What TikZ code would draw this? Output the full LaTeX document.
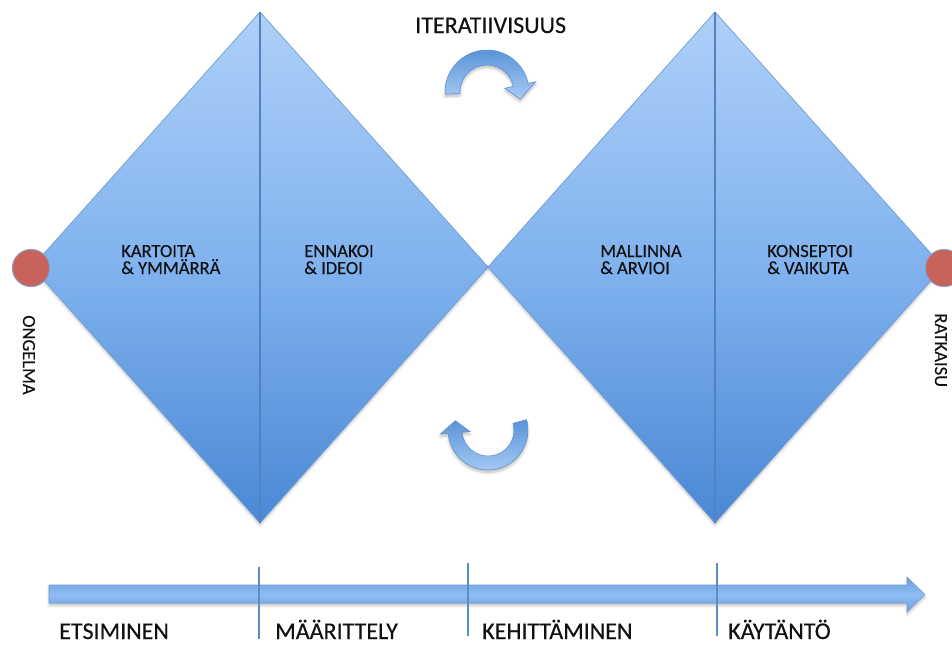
\documentclass[tikz,border=0pt]{standalone}
\usepackage{fontspec}
\setmainfont{Carlito}
\newfontfamily\labelfont{Carlito}[FakeBold=0.35]
\usetikzlibrary{shadows.blur}

\definecolor{diatop}{HTML}{AED0F8}
\definecolor{diamid}{HTML}{80B2EE}
\definecolor{diabot}{HTML}{4A88D4}
\definecolor{diaedge}{HTML}{6E9CD6}
\definecolor{divider}{HTML}{5383BF}
\definecolor{dotred}{HTML}{C8635C}
\definecolor{dotedge}{HTML}{7FA3D2}
\definecolor{arrowdark}{HTML}{5A93D8}
\definecolor{arrowlight}{HTML}{A6CBF5}
\definecolor{arrowedge}{HTML}{5C8ECF}
\definecolor{barlight}{HTML}{8FBCF1}
\definecolor{bardark}{HTML}{6DA0E0}
\definecolor{baredge}{HTML}{6A9AD6}
\definecolor{tickblue}{HTML}{5B8CC6}
\definecolor{ink}{HTML}{111111}

\tikzset{
  diamondfill/.style={top color=diatop, bottom color=diabot, middle color=diamid,
    draw=diaedge, line width=0.5pt, line join=miter,
    blur shadow={shadow xshift=0pt, shadow yshift=-1.5pt, shadow blur steps=6, shadow opacity=25}},
  divline/.style={draw=divider, line width=1.4pt},
  dot/.style={circle, minimum size=28pt, inner sep=0pt, fill=dotred, draw=dotedge, line width=0.6pt},
  loopar/.style={top color=arrowdark, bottom color=arrowlight, draw=arrowedge, line width=0.4pt,
    line join=miter,
    blur shadow={shadow xshift=0pt, shadow yshift=-2pt, shadow blur steps=6, shadow opacity=25}},
  timebar/.style={top color=bardark, bottom color=bardark, middle color=barlight,
    draw=baredge, line width=0.4pt, line join=miter,
    blur shadow={shadow xshift=0pt, shadow yshift=-2pt, shadow blur steps=6, shadow opacity=25}},
  tick/.style={draw=tickblue, line width=1.3pt},
  steptext/.style={font=\labelfont\fontsize{13.9}{16}\selectfont, inner sep=0pt, anchor=base west, text=ink},
  phasetext/.style={font=\labelfont\fontsize{18}{21}\selectfont, inner sep=0pt, anchor=base west, text=ink},
  endtext/.style={font=\labelfont\fontsize{13.9}{16}\selectfont, inner sep=0pt, anchor=base west, text=ink, rotate=-90},
}

\begin{document}
\begin{tikzpicture}[x=0.75pt, y=-0.75pt]
  \path[use as bounding box] (0,0) rectangle (952,644);
  \clip (0,0) rectangle (952,644);

  % corner points of the two diamonds
  \coordinate (aL) at (32,267);
  \coordinate (aT) at (260,12);
  \coordinate (aB) at (260,523);
  \coordinate (mid) at (488,267);
  \coordinate (bT) at (715,12);
  \coordinate (bB) at (715,523);
  \coordinate (bR) at (943,267);

  % diamonds
  \path[diamondfill] (aL) -- (aT) -- (mid) -- (aB) -- cycle;
  \path[diamondfill] (mid) -- (bT) -- (bR) -- (bB) -- cycle;
  \draw[divline] (aT) -- (aB);
  \draw[divline] (bT) -- (bB);

  % start and end points
  \node[dot] (problem) at (31,268) {};
  \node[dot] (solution) at (944,268) {};
  \node[endtext] (problemtxt) at (23,315) {ONGELMA};
  \node[endtext] (solutiontxt) at (935,313) {RATKAISU};

  % step labels inside the diamonds
  \node[steptext] (s1a) at (121,257) {KARTOITA};
  \node[steptext] (s1b) at (121,274) {\& YMMÄRRÄ};
  \node[steptext] (s2a) at (304,257) {ENNAKOI};
  \node[steptext] (s2b) at (304,274) {\& IDEOI};
  \node[steptext] (s3a) at (600,257) {MALLINNA};
  \node[steptext] (s3b) at (600,274) {\& ARVIOI};
  \node[steptext] (s4a) at (767,257) {KONSEPTOI};
  \node[steptext] (s4b) at (767,274) {\& VAIKUTA};

  % iteration arrows
  \node[phasetext] (iter) at (415,33) {ITERATIIVISUUS};
  \begin{scope}[shift={(487,92)}, yscale=-1]
    \path[loopar] (183:42) arc[start angle=183, end angle=12, radius=42]
      -- (12:50) -- (-12:34) -- (12:18) -- (12:27)
      arc[start angle=12, end angle=183, radius=27] -- cycle;
  \end{scope}
  \begin{scope}[shift={(488,430)}, yscale=-1]
    \path[loopar] (15:40) arc[start angle=15, end angle=-175, radius=40]
      -- (-175:48) -- (164:34) -- (-175:18) -- (-175:26)
      arc[start angle=-175, end angle=15, radius=26] -- cycle;
  \end{scope}

  % time line with phase marks
  \path[timebar] (49,585) -- (907,585) -- (907,577) -- (925,594.5)
    -- (907,612) -- (907,603) -- (49,603) -- cycle;
  \draw[tick] (259,567) -- (259,639);
  \draw[tick] (468,563) -- (468,636);
  \draw[tick] (717,563) -- (717,636);

  \node[phasetext] (p1) at (59,639) {ETSIMINEN};
  \node[phasetext] (p2) at (275,639) {MÄÄRITTELY};
  \node[phasetext] (p3) at (482,639) {KEHITTÄMINEN};
  \node[phasetext] (p4) at (728,639) {KÄYTÄNTÖ};
\end{tikzpicture}
\end{document}
